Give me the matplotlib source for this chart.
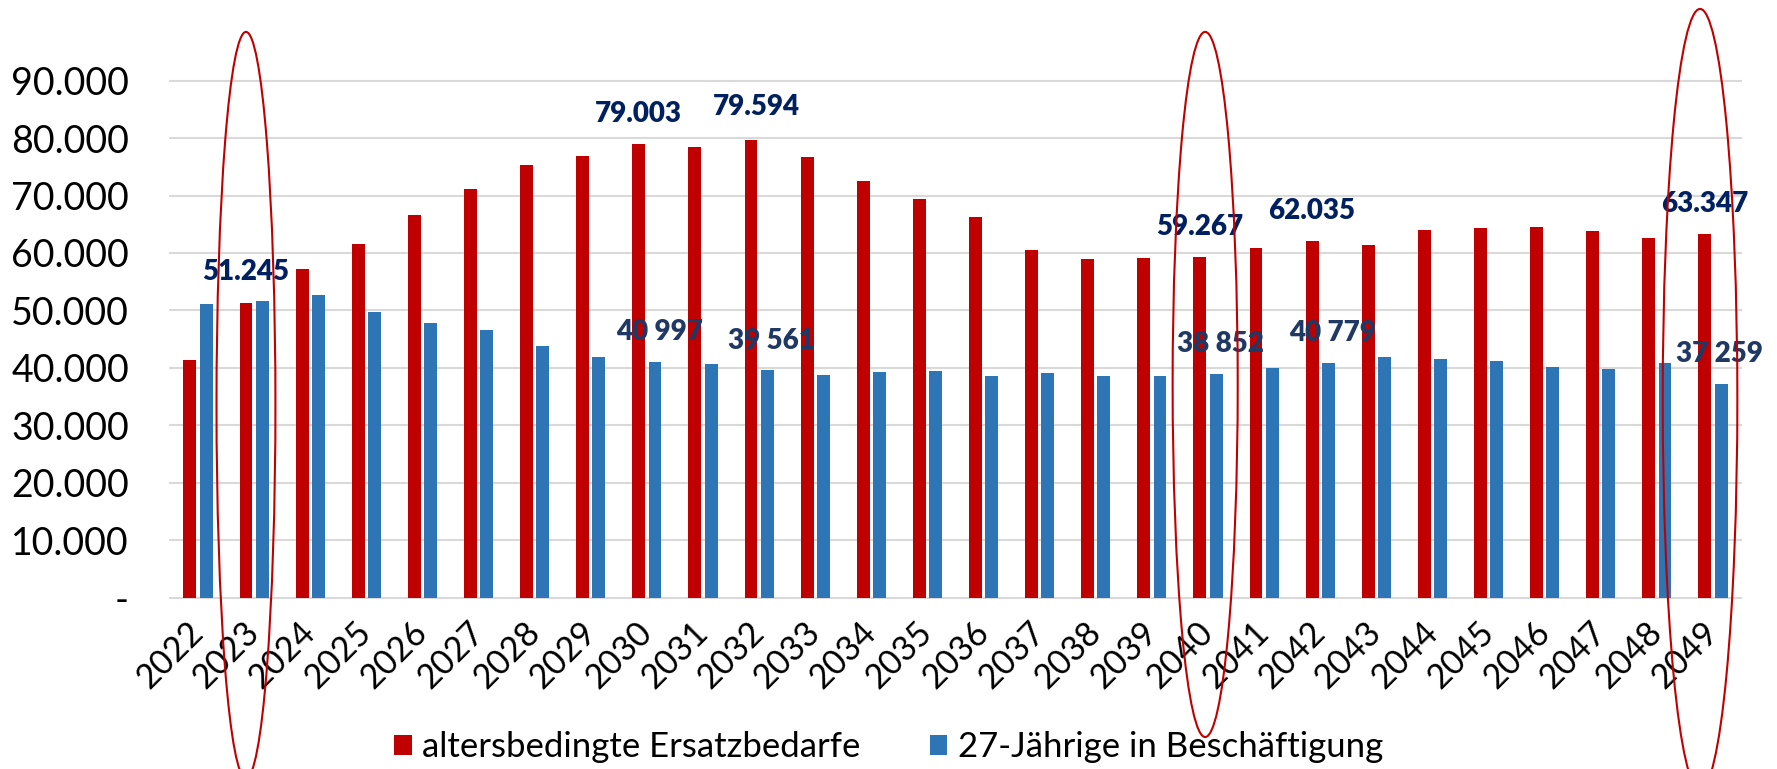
import matplotlib
matplotlib.use("Agg")
import matplotlib.pyplot as plt
from matplotlib.patches import Ellipse
from matplotlib.ticker import FuncFormatter
import numpy as np

plt.rcParams['font.family'] = ['Lato', 'DejaVu Sans']

RED = "#C00000"
BLUE = "#2E75B6"
NAVY = "#002060"
NAVY2 = "#1F3864"

years = list(range(2022, 2050))
ersatz = [41400, 51245, 57200, 61600, 66600, 71200, 75400, 76900, 79003, 78500,
          79594, 76700, 72500, 69400, 66300, 60500, 59000, 59150, 59267, 60800,
          62035, 61350, 64000, 64400, 64500, 63900, 62600, 63347]
jaehrige = [51100, 51600, 52650, 49800, 47800, 46650, 43750, 41900, 40997, 40750,
            39561, 38700, 39300, 39450, 38600, 39050, 38550, 38600, 38852, 40000,
            40779, 41850, 41500, 41150, 40100, 39750, 40800, 37259]
series_names = ["altersbedingte Ersatzbedarfe", "27-Jährige in Beschäftigung"]

# labelled years (red series / blue series)
red_label_years = [2023, 2030, 2032, 2040, 2042, 2049]
blue_label_years = [2030, 2032, 2040, 2042, 2049]
# highlighted years (ellipses)
circled_years = [2023, 2040, 2049]

fig = plt.figure(figsize=(17.77, 7.69), dpi=100)
ax = fig.add_axes([170 / 1777, 171.5 / 769, (1741 - 170) / 1777, (597.5 - 80.7) / 769])

x = np.arange(len(years))
w = 0.23
off = 0.145
ax.bar(x - off, ersatz, w, color=RED, label=series_names[0], zorder=2)
ax.bar(x + off, jaehrige, w, color=BLUE, label=series_names[1], zorder=2)

ax.set_xlim(-0.5, len(years) - 0.5)
ax.set_ylim(0, 90000)
ax.set_yticks(range(0, 90001, 10000))
ax.yaxis.set_major_formatter(FuncFormatter(
    lambda v, p: "-" if v == 0 else f"{int(v):,}".replace(",", ".")))
ax.grid(axis='y', color='#D9D9D9', lw=1.5, zorder=0)
ax.set_axisbelow(True)
for line in ax.get_ygridlines():
    line.set_clip_on(False)
for s in ax.spines.values():
    s.set_visible(False)

ax.tick_params(axis='y', length=0, pad=29.5, labelsize=27)
ax.tick_params(axis='x', length=0, pad=21.6, labelsize=24.5)
ax.set_xticks(x)
ax.set_xticklabels([str(y) for y in years], rotation=45, ha='right',
                   va='center', rotation_mode='anchor')

# value labels (offsets in pixels)
red_offsets = [(0, 31), (0, 30), (5, 33), (0, 30), (0, 30), (0, 30)]
blue_offsets = [(4, 30), (4, 29), (4, 30), (4, 30), (-2, 30)]
for yr, (dx, dy) in zip(red_label_years, red_offsets):
    i = years.index(yr)
    v = ersatz[i]
    ax.annotate(f"{v:,}".replace(",", "."), (i - off, v), xytext=(dx, dy),
                textcoords='offset pixels', ha='center', va='center',
                fontsize=20, fontweight='heavy', color=NAVY, zorder=5)
for yr, (dx, dy) in zip(blue_label_years, blue_offsets):
    i = years.index(yr)
    v = jaehrige[i]
    ax.annotate(f"{v:,}".replace(",", " "), (i + off, v), xytext=(dx, dy),
                textcoords='offset pixels', ha='center', va='center',
                fontsize=20, fontweight='heavy', color=NAVY2, zorder=5)

# ellipses: (x shift, width) in categories, (centre, height) in data units
ell_shapes = [(-0.146, 1.05, 33500, 130000),
              (-0.05, 1.16, 37100, 122800),
              (-0.23, 1.33, 34500, 136000)]
for yr, (sx, ew, cy, eh) in zip(circled_years, ell_shapes):
    i = years.index(yr)
    e = Ellipse((i + sx, cy), ew, eh, fill=False, ec=RED, lw=1.5,
                clip_on=False, zorder=6)
    ax.add_patch(e)

fig.legend(loc='center', bbox_to_anchor=(0.5, 22 / 769), ncol=2, frameon=False,
           fontsize=25, handlelength=0.5, handleheight=0.5,
           handletextpad=0.3, columnspacing=2.0)

fig.savefig("out.png", dpi=100)
